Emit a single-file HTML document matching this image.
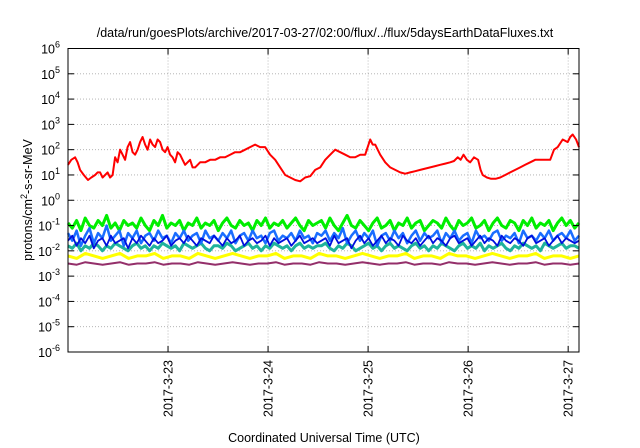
<!DOCTYPE html>
<html><head><meta charset="utf-8"><style>
html,body{margin:0;padding:0;background:#fff;}
svg{display:block;font-family:"Liberation Sans",sans-serif;}
</style></head><body>
<svg id="chart" width="640" height="448" viewBox="0 0 640 448">
<text x="325" y="37" font-size="12.5" text-anchor="middle" fill="#000">/data/run/goesPlots/archive/2017-03-27/02:00/flux/../flux/5daysEarthDataFluxes.txt</text>
<g id="grid"></g>
<g id="series"></g>
<rect x="68" y="48.5" width="511" height="303.5" fill="none" stroke="#000" stroke-width="1"/>
<g id="axes"></g>
<text transform="translate(32,200) rotate(-90)" font-size="12.5" text-anchor="middle">protons/cm<tspan dy="-5" font-size="9">2</tspan><tspan dy="5">-s-sr-MeV</tspan></text>
<text x="324" y="442" font-size="12.5" text-anchor="middle">Coordinated Universal Time (UTC)</text>
</svg>
<script>
// x in hours from 2017-03-22 00:00; y = log10 flux
const xTickLabels = ["2017-3-23","2017-3-24","2017-3-25","2017-3-26","2017-3-27"];
const xTickHours = [24,48,72,96,120];
const yTickExps = [-6,-5,-4,-3,-2,-1,0,1,2,3,4,5,6];
const redHours = [0,0.8,1.7,2.3,2.9,3.8,4.8,5.6,6.5,7.1,7.7,8.3,8.9,9.5,10.1,10.7,11.3,11.9,12.5,13.1,13.7,14.3,14.9,15.5,16.1,16.7,17.3,17.9,18.5,19.1,19.7,20.3,20.9,21.5,22.1,22.7,23.3,23.9,24.5,25.1,25.7,26.3,26.9,27.5,28.1,28.7,29.3,29.9,30.5,31.7,32.9,34.1,35.3,36.5,37.7,38.9,40.1,41.3,42.5,43.7,44.9,46.1,47.3,48.5,49.7,50.9,52.1,53.3,54.5,55.7,56.9,58.1,59.3,60.5,61.7,62.9,64.1,65.3,66.5,67.7,68.9,70.1,71.3,71.9,72.5,73.1,73.7,74.3,74.9,76.1,77.3,78.5,79.7,80.9,82.1,83.3,84.5,85.7,86.9,88.1,89.3,90.5,91.7,92.6,93.5,94.2,94.9,95.7,96.5,97.4,98.4,99.0,99.5,100.5,101.5,102.6,103.7,104.9,106.1,107.3,108.5,109.7,110.9,112.1,113.3,114.5,115.7,116.6,117.5,118.7,119.9,120.5,121.1,121.9,122.6];
const redVals = [1.4,1.6,1.7,1.5,1.2,1.0,0.8,0.9,1.0,1.1,1.1,0.9,1.0,1.1,0.9,1.0,1.7,1.5,2.0,1.8,1.6,2.1,2.3,1.9,1.8,2.0,2.3,2.5,2.2,2.0,2.4,2.2,2.1,2.4,2.3,2.0,1.9,2.1,1.8,1.7,1.5,1.9,1.8,1.6,1.4,1.5,1.6,1.3,1.3,1.5,1.5,1.6,1.6,1.7,1.7,1.8,1.9,1.9,2.0,2.1,2.2,2.1,2.1,1.8,1.6,1.3,1.0,0.9,0.8,0.75,0.9,0.95,1.2,1.3,1.6,1.8,2.0,1.9,1.8,1.7,1.7,1.8,1.8,2.1,2.4,2.2,2.2,2.0,1.8,1.5,1.3,1.2,1.1,1.05,1.1,1.15,1.2,1.25,1.3,1.35,1.4,1.45,1.5,1.55,1.7,1.6,1.8,1.6,1.5,1.7,1.6,1.2,1.0,0.9,0.85,0.85,0.9,1.0,1.1,1.2,1.3,1.4,1.5,1.6,1.6,1.6,1.6,2.0,2.1,2.4,2.3,2.5,2.6,2.4,2.1];
const greenVals = [-0.9,-1.1,-0.8,-1.2,-0.7,-1.0,-1.1,-0.8,-1.0,-0.6,-1.1,-0.9,-1.2,-0.8,-1.0,-0.9,-1.1,-0.7,-1.0,-1.2,-0.8,-1.0,-0.6,-1.1,-0.9,-1.0,-0.8,-1.2,-0.9,-1.0,-0.7,-1.1,-0.9,-1.0,-0.8,-1.2,-0.9,-0.7,-1.0,-1.1,-0.8,-1.0,-0.9,-1.2,-0.8,-1.0,-0.7,-1.1,-0.9,-1.0,-0.8,-1.1,-0.9,-0.7,-1.0,-1.2,-0.8,-1.0,-0.9,-0.8,-1.1,-0.7,-1.0,-1.2,-0.9,-0.6,-1.0,-1.1,-0.8,-1.0,-1.2,-0.9,-0.7,-1.1,-1.0,-0.8,-1.2,-0.9,-1.0,-0.7,-1.1,-0.9,-0.8,-1.2,-1.0,-0.8,-0.9,-1.1,-0.7,-1.0,-1.2,-0.8,-1.0,-0.9,-0.7,-1.1,-1.0,-0.8,-1.2,-0.9,-0.7,-1.0,-1.1,-0.8,-0.9,-1.2,-0.8,-1.0,-0.7,-1.1,-0.9,-1.0,-0.8,-1.2,-0.9,-0.7,-1.0,-0.8,-1.1,-0.9];
const blueVals = [-1.3,-1.6,-1.2,-1.8,-1.4,-1.1,-1.7,-1.3,-1.5,-1.0,-1.6,-1.4,-1.2,-1.8,-1.3,-1.5,-1.2,-1.7,-1.4,-1.3,-1.6,-1.2,-1.5,-1.4,-1.7,-1.3,-1.5,-1.2,-1.6,-1.4,-1.3,-1.7,-1.2,-1.5,-1.4,-1.6,-1.3,-1.5,-1.2,-1.7,-1.4,-1.3,-1.6,-1.2,-1.5,-1.4,-1.7,-1.3,-1.2,-1.6,-1.4,-1.5,-1.3,-1.6,-1.2,-1.5,-1.4,-1.7,-1.3,-1.4,-1.2,-1.6,-1.3,-1.5,-1.1,-1.7,-1.4,-1.2,-1.6,-1.3,-1.5,-1.2,-1.8,-1.4,-1.3,-1.6,-1.2,-1.5,-1.3,-1.7,-1.4,-1.2,-1.6,-1.3,-1.5,-1.4,-1.2,-1.7,-1.3,-1.5,-1.2,-1.6,-1.4,-1.3,-1.7,-1.2,-1.5,-1.4,-1.6,-1.3,-1.2,-1.6,-1.4,-1.5,-1.3,-1.7,-1.2,-1.5,-1.4,-1.6,-1.3,-1.5,-1.2,-1.6,-1.4,-1.3,-1.5,-1.2,-1.6,-1.4];
const navyVals = [-1.6,-1.4,-1.8,-1.5,-1.7,-1.4,-1.9,-1.6,-1.5,-1.8,-1.4,-1.7,-1.6,-1.5,-1.9,-1.5,-1.7,-1.4,-1.6,-1.8,-1.5,-1.7,-1.6,-1.4,-1.8,-1.6,-1.5,-1.7,-1.4,-1.6,-1.8,-1.5,-1.6,-1.7,-1.4,-1.6,-1.8,-1.5,-1.7,-1.6,-1.4,-1.8,-1.6,-1.5,-1.7,-1.6,-1.4,-1.8,-1.5,-1.7,-1.6,-1.5,-1.8,-1.6,-1.4,-1.7,-1.6,-1.5,-1.7,-1.6,-1.5,-1.8,-1.4,-1.7,-1.6,-1.5,-1.9,-1.6,-1.4,-1.7,-1.5,-1.8,-1.6,-1.4,-1.7,-1.5,-1.6,-1.8,-1.4,-1.6,-1.7,-1.5,-1.8,-1.6,-1.4,-1.7,-1.5,-1.6,-1.8,-1.5,-1.4,-1.7,-1.6,-1.5,-1.8,-1.6,-1.4,-1.7,-1.5,-1.6,-1.8,-1.4,-1.6,-1.7,-1.5,-1.6,-1.8,-1.5,-1.4,-1.7,-1.6,-1.5,-1.8,-1.6,-1.4,-1.7,-1.5,-1.6,-1.7,-1.6];
const tealVals = [-1.8,-1.9,-1.7,-2.0,-1.8,-1.9,-1.7,-1.8,-2.0,-1.8,-1.9,-1.7,-1.8,-1.9,-2.0,-1.8,-1.7,-1.9,-1.8,-2.0,-1.8,-1.9,-1.7,-1.8,-1.9,-1.8,-2.0,-1.7,-1.8,-1.9,-1.8,-1.7,-1.9,-2.0,-1.8,-1.8,-1.9,-1.7,-1.8,-2.0,-1.9,-1.8,-1.7,-1.9,-1.8,-2.0,-1.8,-1.9,-1.7,-1.8,-1.9,-1.8,-2.0,-1.8,-1.7,-1.9,-1.8,-1.9,-1.8,-1.8,-1.7,-1.9,-2.0,-1.8,-1.9,-1.7,-1.8,-2.0,-1.9,-1.8,-1.7,-1.9,-1.8,-2.0,-1.8,-1.7,-1.9,-1.8,-1.9,-2.0,-1.8,-1.7,-1.9,-1.8,-2.0,-1.8,-1.9,-1.7,-1.8,-1.9,-2.0,-1.8,-1.7,-1.9,-1.8,-1.9,-1.7,-2.0,-1.8,-1.9,-1.8,-1.7,-1.9,-2.0,-1.8,-1.9,-1.7,-1.8,-1.9,-1.8,-2.0,-1.7,-1.8,-1.9,-1.8,-1.7,-1.9,-1.8,-1.8,-1.9];
const yellowVals = [-2.2,-2.3,-2.1,-2.2,-2.3,-2.2,-2.1,-2.3,-2.2,-2.2,-2.1,-2.3,-2.2,-2.2,-2.3,-2.1,-2.2,-2.3,-2.2,-2.1,-2.2,-2.3,-2.2,-2.2,-2.1,-2.3,-2.2,-2.2,-2.3,-2.1,-2.2,-2.2,-2.3,-2.2,-2.1,-2.2,-2.3,-2.2,-2.2,-2.1,-2.3,-2.2,-2.2,-2.3,-2.1,-2.2,-2.2,-2.3,-2.2,-2.1,-2.2,-2.3,-2.2,-2.2,-2.1,-2.3,-2.2,-2.2,-2.3,-2.2];
const purpleVals = [-2.5,-2.55,-2.45,-2.5,-2.55,-2.5,-2.45,-2.55,-2.5,-2.5,-2.45,-2.55,-2.5,-2.5,-2.55,-2.45,-2.5,-2.55,-2.5,-2.45,-2.5,-2.55,-2.5,-2.5,-2.45,-2.55,-2.5,-2.5,-2.55,-2.45,-2.5,-2.5,-2.55,-2.5,-2.45,-2.5,-2.55,-2.5,-2.5,-2.45,-2.55,-2.5,-2.5,-2.55,-2.45,-2.5,-2.5,-2.55,-2.5,-2.45,-2.5,-2.55,-2.5,-2.5,-2.45,-2.55,-2.5,-2.5,-2.55,-2.5];

const NS="http://www.w3.org/2000/svg";
const X0=68,X1=579,Y0=352,Y1=48.5,H0=0,H1=122.6;
function xs(h){return X0+(h-H0)/(H1-H0)*(X1-X0);}
function ys(e){return Y0-(e+6)/12*(Y0-Y1);}
function mk(tag,attrs,parent){const el=document.createElementNS(NS,tag);for(const k in attrs)el.setAttribute(k,attrs[k]);parent.appendChild(el);return el;}
const grid=document.getElementById('grid'),axes=document.getElementById('axes'),series=document.getElementById('series');

yTickExps.forEach(e=>{
  const y=ys(e);
  if(e>-6&&e<6){const g=mk('line',{x1:X0,x2:X1,y1:y,y2:y,stroke:'#aaa','stroke-width':0.8,'stroke-dasharray':'1,2'},grid);
  }
  const t1=mk('line',{x1:X0,x2:X0+6,y1:y,y2:y,stroke:'#000'},axes);
  
  const t2=mk('line',{x1:X1-6,x2:X1,y1:y,y2:y,stroke:'#000'},axes);
  
  const tx=mk('text',{x:60,y:y+5,'font-size':12.5,'text-anchor':'end'},axes);
  
  tx.textContent='10';
  const sp=mk('tspan',{dy:-6,'font-size':9},tx);sp.textContent=String(e);
});
xTickHours.forEach((h,i)=>{
  const x=xs(h);
  const g=mk('line',{x1:x,x2:x,y1:Y1,y2:Y0,stroke:'#aaa','stroke-width':0.8,'stroke-dasharray':'1,2'},grid);
  
  const t1=mk('line',{x1:x,x2:x,y1:Y0,y2:Y0-6,stroke:'#000'},axes);
  
  const t2=mk('line',{x1:x,x2:x,y1:Y1,y2:Y1+6,stroke:'#000'},axes);
  
  const tx=mk('text',{transform:`translate(${x+4.5},360) rotate(-90)`,'font-size':12.5,'text-anchor':'end'},axes);
  
  tx.textContent=xTickLabels[i];
});
function drawLine(hours,vals,color,w,name){
  const pts=vals.map((v,i)=>xs(hours[i]).toFixed(1)+','+ys(v).toFixed(1)).join(' ');
  const p=mk('polyline',{points:pts,fill:'none',stroke:color,'stroke-width':w,'stroke-linejoin':'round'},series);
  
}
function idxHours(vals){return vals.map((v,i)=>H0+i*(H1-H0)/(vals.length-1));}
drawLine(idxHours(purpleVals),purpleVals,'#942f6a',2,'series-purple');
drawLine(idxHours(yellowVals),yellowVals,'#ffff00',3,'series-yellow');
drawLine(idxHours(tealVals),tealVals,'#1fb39c',3,'series-teal');
drawLine(idxHours(greenVals),greenVals,'#00ee00',3,'series-green');
drawLine(idxHours(blueVals),blueVals,'#1a6dff',2.5,'series-blue');
drawLine(idxHours(navyVals),navyVals,'#0010dd',1.8,'series-navy');
drawLine(redHours,redVals,'#ff0000',2,'series-red');
</script>
</body></html>
